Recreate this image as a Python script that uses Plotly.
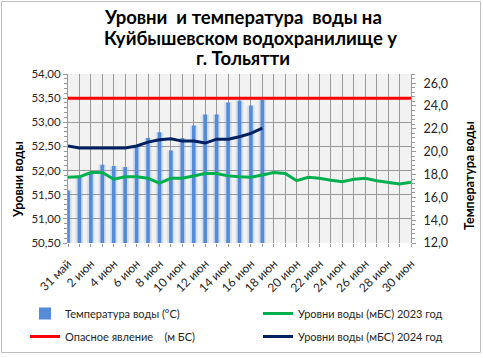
import plotly.graph_objects as go

days = ["31 май"] + [f"{d} июн" for d in range(1, 31)]
temp_2024 = [16.6, 17.9, 18.2, 18.85, 18.75, 18.65, 20.5, 21.2, 21.7, 20.1,
             21.2, 22.3, 23.25, 23.25, 24.3, 24.45, 24.05, 24.55]
level_2023 = [51.86, 51.87, 51.96, 51.96, 51.82, 51.87, 51.87, 51.84, 51.74, 51.84,
              51.84, 51.89, 51.94, 51.94, 51.89, 51.87, 51.86, 51.91, 51.96, 51.94,
              51.79, 51.86, 51.84, 51.80, 51.77, 51.82, 51.84, 51.79, 51.76, 51.72,
              51.76]
level_2024 = [52.51, 52.47, 52.47, 52.47, 52.47, 52.47, 52.51, 52.59, 52.64, 52.66,
              52.61, 52.61, 52.57, 52.65, 52.65, 52.70, 52.77, 52.88]
danger_level = [53.50] * len(days)
title_lines = ["Уровни  и температура  воды на", "Куйбышевском водохранилище у", "г. Тольятти"]

idx = list(range(len(days)))
tick_idx = idx[::2]
tick_text = days[::2]

FONT = "Lato"
PT, PB, PL, PR = 74, 243, 68, 411
PH, PW = PB - PT, PR - PL


def py(px):
    return (PB - px) / PH


def pxx(px):
    return (px - PL) / PW


fig = go.Figure()

fig.add_trace(go.Bar(x=idx[:len(temp_2024)], y=temp_2024, yaxis="y",
                     width=0.64, marker=dict(color="rgba(110,155,220,0.24)", line=dict(width=0)),
                     showlegend=False, hoverinfo="skip"))
fig.add_trace(go.Bar(x=idx[:len(temp_2024)], y=temp_2024, yaxis="y",
                     name="Температура воды (°C)", width=0.32, legend="legend", legendgroup="a",
                     marker=dict(color="#558BD7", line=dict(width=0))))
fig.add_trace(go.Scatter(x=idx, y=level_2023, yaxis="y2", mode="lines",
                         name="Уровни воды (мБС) 2023 год", legend="legend2", legendgroup="b",
                         line=dict(color="#00B050", width=3)))
fig.add_trace(go.Scatter(x=idx, y=danger_level, yaxis="y2", mode="lines",
                         name="Опасное явление    (м БС)", legend="legend", legendgroup="c",
                         line=dict(color="#FF0000", width=3)))
fig.add_trace(go.Scatter(x=idx[:len(level_2024)], y=level_2024, yaxis="y2", mode="lines",
                         name="Уровни воды (мБС) 2024 год", legend="legend2", legendgroup="d",
                         line=dict(color="#002060", width=3)))

grid = "#999999"
annotations = []
for line, ypx, xc in zip(title_lines, [17, 38, 58], [243, 250, 243]):
    annotations.append(dict(text=f"<b>{line}</b>", xref="paper", yref="paper",
                            x=pxx(xc), y=py(ypx), xanchor="center", yanchor="middle",
                            showarrow=False, font=dict(family=FONT, size=18.5, color="black")))
annotations += [
    dict(text="<b>Уровни воды</b>", xref="paper", yref="paper",
         x=pxx(18), y=py(180), xanchor="center", yanchor="middle", textangle=-90,
         showarrow=False, font=dict(family=FONT, size=12.5, color="black")),
    dict(text="<b>Температура воды</b>", xref="paper", yref="paper",
         x=pxx(469), y=py(176), xanchor="center", yanchor="middle", textangle=-90,
         showarrow=False, font=dict(family=FONT, size=12.5, color="black")),
]

leg_common = dict(orientation="v", xanchor="left", yanchor="top", itemwidth=30,
                  traceorder="grouped", tracegroupgap=4,
                  font=dict(family=FONT, size=11, color="#262626"), bgcolor="rgba(0,0,0,0)")

fig.update_layout(
    width=483, height=358,
    margin=dict(l=PL, r=483 - PR, t=PT, b=358 - PB, autoexpand=False),
    paper_bgcolor="white", plot_bgcolor="#F2F2F2",
    separators=", ",
    barmode="overlay",
    font=dict(family=FONT, color="#262626"),
    xaxis=dict(range=[0, 30], tickvals=tick_idx, ticktext=tick_text, tickangle=-45,
               showgrid=True, gridcolor=grid, gridwidth=1,
               minor=dict(dtick=1, tick0=0, showgrid=True, gridcolor=grid, ticks="outside",
                          ticklen=3, tickcolor=grid),
               ticks="outside", ticklen=3, tickcolor=grid, ticklabelstandoff=5,
               showline=False, zeroline=False,
               tickfont=dict(size=12, color="#262626")),
    yaxis=dict(range=[12, 26.8], side="right", tickvals=[12, 14, 16, 18, 20, 22, 24, 26],
               tickformat=".1f", showgrid=False, zeroline=False,
               showline=True, linecolor=grid, ticks="outside", ticklen=4, tickcolor=grid,
               ticklabelstandoff=5,
               minor=dict(dtick=0.4, tick0=12, ticks="outside", ticklen=3, tickcolor=grid),
               tickfont=dict(size=12.5, color="#262626")),
    yaxis2=dict(range=[50.5, 54.0], side="left", overlaying="y", dtick=0.5, tick0=50.5,
                tickformat=".2f", showgrid=True, gridcolor=grid, gridwidth=1, zeroline=False,
                showline=True, linecolor=grid, ticks="outside", ticklen=4, tickcolor=grid,
                minor=dict(dtick=0.1, ticks="outside", ticklen=3, tickcolor=grid),
                tickfont=dict(size=11.5, color="#262626")),
    legend=dict(x=pxx(25), y=py(299), **leg_common),
    legend2=dict(x=pxx(258), y=py(299), **leg_common),
    showlegend=True,
    annotations=annotations,
    shapes=[dict(type="rect", xref="paper", yref="paper",
                 x0=pxx(1.5), x1=pxx(480.5), y0=py(352.5), y1=py(1.5),
                 line=dict(color="#BFBFBF", width=1), fillcolor="rgba(0,0,0,0)", layer="below")],
)

fig.write_html("out.html", config={"displayModeBar": False},
               post_script="document.body.style.margin='0';document.body.style.overflow='hidden';")
